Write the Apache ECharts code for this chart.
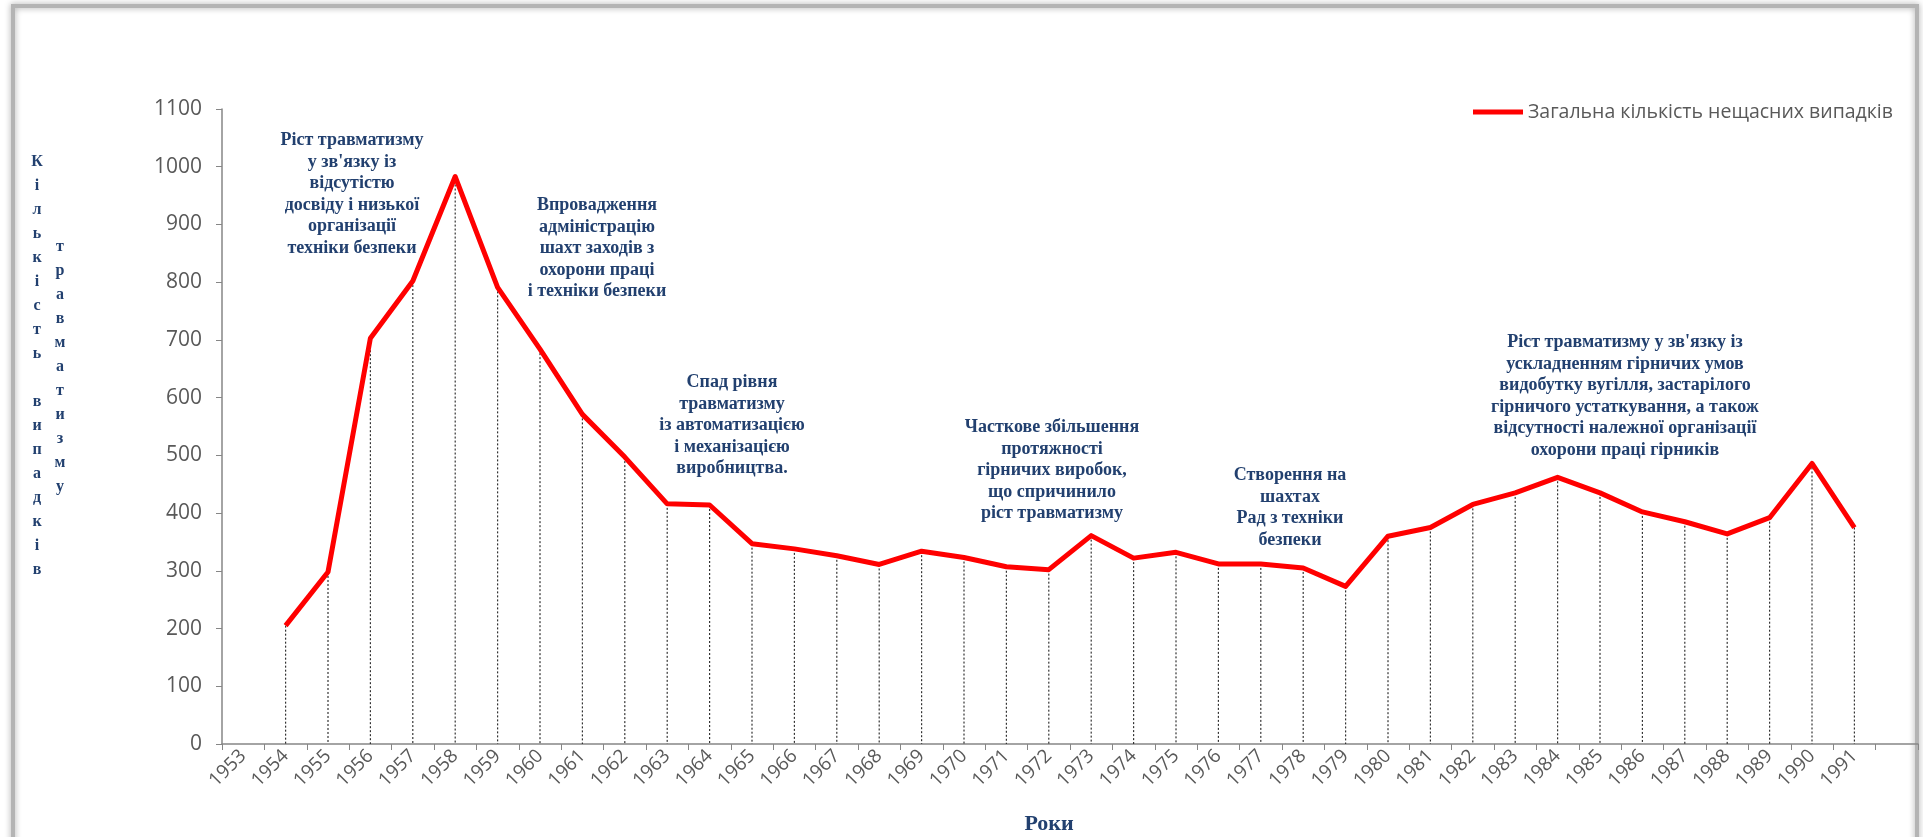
<!DOCTYPE html>
<html><head><meta charset="utf-8">
<script src="https://cdn.jsdelivr.net/npm/echarts@6/dist/echarts.min.js"></script>
<style>html,body{margin:0;padding:0;background:#fff}#c{width:1923px;height:837px}</style>
</head><body><div id="c"></div>
<script>
const years = ['1953','1954','1955','1956','1957','1958','1959','1960','1961','1962','1963','1964','1965','1966','1967','1968','1969','1970','1971','1972','1973','1974','1975','1976','1977','1978','1979','1980','1981','1982','1983','1984','1985','1986','1987','1988','1989','1990','1991',''];
const accidents = [null,205,298,703,802,983,791,684,571,497,416,414,347,338,326,311,334,323,307,302,361,322,332,312,312,305,273,360,375,415,435,462,435,402,385,364,392,486,375,null];
const seriesName = 'Загальна кількість нещасних випадків';
const yTitle1 = 'Кількість випадків';
const yTitle2 = 'травматизму';
const xTitle = 'Роки';
const notes = [
  "Ріст травматизму\nу зв'язку із\nвідсутістю\nдосвіду і низької\nорганізації\nтехніки безпеки",
  "Впровадження\nадміністрацію\nшахт заходів з\nохорони праці\nі техніки безпеки",
  "Спад рівня\nтравматизму\nіз автоматизацією\nі механізацією\nвиробництва.",
  "Часткове збільшення\nпротяжності\nгірничих виробок,\nщо спричинило\nріст травматизму",
  "Створення на\nшахтах\nРад з техніки\nбезпеки",
  "Ріст травматизму у зв'язку із\nускладненням гірничих умов\nвидобутку вугілля, застарілого\nгірничого устаткування, а також\nвідсутності належної організації\nохорони праці гірників"
];
const notePos = [[352,130],[597,195],[732,372],[1052,417],[1290,465],[1625,332]];

const chart = echarts.init(document.getElementById('c'));
const noteColor = '#22406f';
const graphics = [
  {type:'rect', shape:{x:13,y:6,width:1904,height:900}, style:{fill:'none', stroke:'#b4b4b4', lineWidth:4, shadowBlur:6, shadowColor:'rgba(0,0,0,0.35)'}, z:-10, silent:true},
  {type:'text', style:{text: yTitle1.split('').join('\n'), x:37, y:150, fill:noteColor, font:'bold 16px "Liberation Serif"', align:'center', verticalAlign:'top', lineHeight:24}},
  {type:'text', style:{text: yTitle2.split('').join('\n'), x:60, y:235, fill:noteColor, font:'bold 16px "Liberation Serif"', align:'center', verticalAlign:'top', lineHeight:24}},
  {type:'text', style:{text: xTitle, x:1049, y:824, fill:noteColor, font:'bold 22px "Liberation Serif"', align:'center', verticalAlign:'middle'}}
];
notes.forEach((t,i)=>{
  graphics.push({type:'text', style:{text:t, x:notePos[i][0], y:notePos[i][1], fill:noteColor, font:'bold 18px "Liberation Serif"', align:'center', verticalAlign:'top', lineHeight:21.5}});
});

chart.setOption({
  animation:false,
  backgroundColor:'#ffffff',
  grid:{left:222, right:5, top:109, bottom:93, containLabel:false},
  legend:{data:[seriesName], left:1468, top:97, icon:'rect', itemWidth:50, itemHeight:5, itemGap:5,
    textStyle:{color:'#595959', fontFamily:'Open Sans', fontSize:19.5}},
  xAxis:{type:'category', data:years, boundaryGap:true,
    axisLine:{lineStyle:{color:'#868686', width:1.5}},
    axisTick:{show:true, interval:0, length:6, lineStyle:{color:'#868686'}},
    axisLabel:{interval:0, rotate:45, margin:9, color:'#595959', fontFamily:'Open Sans', fontSize:19},
    splitLine:{show:false}},
  yAxis:{type:'value', min:0, max:1100, interval:100,
    axisLine:{show:true, lineStyle:{color:'#868686', width:1.5}},
    axisTick:{show:true, length:6, lineStyle:{color:'#868686'}},
    axisLabel:{margin:20, color:'#595959', fontFamily:'Open Sans', fontSize:21, formatter:(v)=>String(v)},
    splitLine:{show:false}},
  graphic: graphics,
  series:[
    {type:'custom', silent:true, z:1,
      data: years.map((y,i)=>[i, accidents[i]]),
      renderItem:(params, api)=>{
        const v = api.value(1);
        if (v == null || isNaN(v)) return null;
        const p = api.coord([api.value(0), v]);
        const b = api.coord([api.value(0), 0]);
        return {type:'line', shape:{x1:p[0], y1:p[1], x2:b[0], y2:b[1]}, style:{stroke:'#333333', lineWidth:1.2, lineDash:[2,2]}};
      }},
    {name:seriesName, type:'line', data:accidents, z:5, symbol:'none', connectNulls:false,
      lineStyle:{color:'#ff0000', width:5, join:'round'}, itemStyle:{color:'#ff0000'}}
  ]
});
</script></body></html>
